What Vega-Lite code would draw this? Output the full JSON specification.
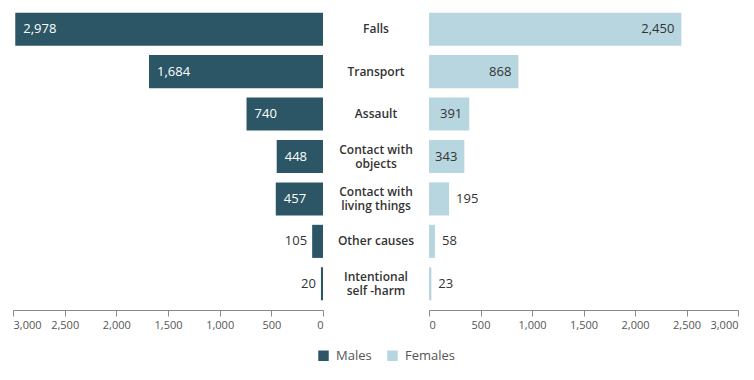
{
  "$schema": "https://vega.github.io/schema/vega-lite/v6.json",
  "padding": {"left": 12, "top": 8, "right": 0, "bottom": 0},
  "background": "white",
  "bounds": "flush",
  "spacing": 0,
  "config": {
    "view": {"stroke": null},
    "font": "Open Sans",
    "axis": {
      "domainColor": "#8a8a8a",
      "tickColor": "#8a8a8a",
      "labelColor": "#555555",
      "labelFontSize": 11,
      "labelPadding": 3,
      "tickSize": 6,
      "grid": false,
      "title": null,
      "offset": 5
    }
  },
  "data": {
    "values": [
      {"cause": "Falls", "label": "Falls", "Males": 2978, "Females": 2450},
      {"cause": "Transport", "label": "Transport", "Males": 1684, "Females": 868},
      {"cause": "Assault", "label": "Assault", "Males": 740, "Females": 391},
      {"cause": "Contact with objects", "label": "Contact with\nobjects", "Males": 448, "Females": 343},
      {"cause": "Contact with living things", "label": "Contact with\nliving things", "Males": 457, "Females": 195},
      {"cause": "Other causes", "label": "Other causes", "Males": 105, "Females": 58},
      {"cause": "Intentional self-harm", "label": "Intentional\nself -harm", "Males": 20, "Females": 23}
    ]
  },
  "hconcat": [
    {
      "width": 310,
      "height": 297,
      "encoding": {
        "y": {"field": "cause", "type": "nominal", "sort": null, "axis": null, "scale": {"domain": ["Falls", "Transport", "Assault", "Contact with objects", "Contact with living things", "Other causes", "Intentional self-harm"], "paddingInner": 0.22, "paddingOuter": 0.11}},
        "x": {"field": "Males", "type": "quantitative", "scale": {"domain": [0, 3000], "reverse": true}, "axis": {"values": [0, 500, 1000, 1500, 2000, 2500, 3000], "format": ",d"}}
      },
      "layer": [
        {
          "mark": {"type": "bar"},
          "encoding": {
            "color": {"datum": "Males", "type": "nominal", "scale": {"domain": ["Males", "Females"], "range": ["#2c5666", "#b8d6e0"]},
              "legend": {"orient": "none", "legendX": 304, "legendY": 341, "direction": "horizontal", "title": null, "symbolType": "square", "symbolSize": 110, "symbolStrokeWidth": 0, "labelFontSize": 13, "labelColor": "#555555", "labelOffset": 6, "columnPadding": 14}}
          }
        },
        {
          "transform": [{"filter": "datum.Males >= 300"}],
          "mark": {"type": "text", "align": "left", "baseline": "middle", "dx": 8, "color": "#ffffff", "fontSize": 13},
          "encoding": {"text": {"field": "Males", "type": "quantitative", "format": ","}}
        },
        {
          "transform": [{"filter": "datum.Males < 300"}],
          "mark": {"type": "text", "align": "right", "baseline": "middle", "dx": -5, "color": "#333333", "fontSize": 13},
          "encoding": {"text": {"field": "Males", "type": "quantitative", "format": ","}}
        }
      ]
    },
    {
      "width": 106,
      "height": 297,
      "encoding": {
        "y": {"field": "cause", "type": "nominal", "sort": null, "axis": null, "scale": {"domain": ["Falls", "Transport", "Assault", "Contact with objects", "Contact with living things", "Other causes", "Intentional self-harm"], "paddingInner": 0.22, "paddingOuter": 0.11}},
        "text": {"field": "label", "type": "nominal"}
      },
      "layer": [
        {
          "transform": [{"filter": {"not": {"field": "cause", "oneOf": ["Contact with objects", "Contact with living things", "Intentional self-harm"]}}}],
          "mark": {"type": "text", "align": "center", "baseline": "middle", "fontWeight": 600, "fontSize": 12, "color": "#333333"}
        },
        {
          "transform": [{"filter": {"field": "cause", "oneOf": ["Contact with objects", "Contact with living things", "Intentional self-harm"]}}],
          "mark": {"type": "text", "align": "center", "baseline": "middle", "fontWeight": 600, "fontSize": 12, "color": "#333333", "lineBreak": "\n", "lineHeight": 14, "dy": -7}
        }
      ]
    },
    {
      "width": 309,
      "height": 297,
      "encoding": {
        "y": {"field": "cause", "type": "nominal", "sort": null, "axis": null, "scale": {"domain": ["Falls", "Transport", "Assault", "Contact with objects", "Contact with living things", "Other causes", "Intentional self-harm"], "paddingInner": 0.22, "paddingOuter": 0.11}},
        "x": {"field": "Females", "type": "quantitative", "scale": {"domain": [0, 3000]}, "axis": {"values": [0, 500, 1000, 1500, 2000, 2500, 3000], "format": ",d"}}
      },
      "layer": [
        {
          "mark": {"type": "bar"},
          "encoding": {
            "color": {"datum": "Females", "type": "nominal", "scale": {"domain": ["Males", "Females"], "range": ["#2c5666", "#b8d6e0"]}}
          }
        },
        {
          "transform": [{"filter": "datum.Females >= 300"}],
          "mark": {"type": "text", "align": "right", "baseline": "middle", "dx": -7, "color": "#333333", "fontSize": 13},
          "encoding": {"text": {"field": "Females", "type": "quantitative", "format": ","}}
        },
        {
          "transform": [{"filter": "datum.Females < 300"}],
          "mark": {"type": "text", "align": "left", "baseline": "middle", "dx": 7, "color": "#333333", "fontSize": 13},
          "encoding": {"text": {"field": "Females", "type": "quantitative", "format": ","}}
        }
      ]
    }
  ],
  "resolve": {"scale": {"color": "shared"}}
}
